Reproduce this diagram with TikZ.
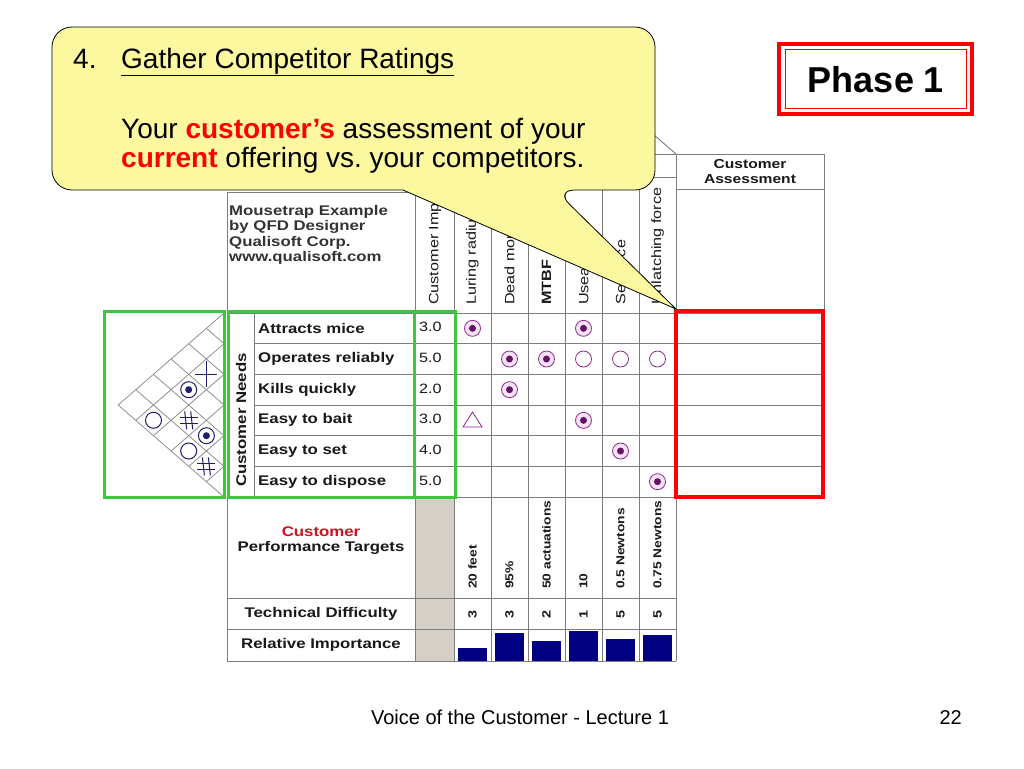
\documentclass[tikz,border=0pt]{standalone}
\usepackage{fontspec}
\setmainfont{Liberation Sans}
\newfontfamily\qfd[FakeStretch=1.2]{Liberation Sans}
\usetikzlibrary{positioning}
\frenchspacing

\definecolor{calloutfill}{RGB}{252,248,160}
\definecolor{qfdgreen}{RGB}{60,200,60}
\definecolor{qfdpurple}{RGB}{140,40,140}
\definecolor{qfdpink}{RGB}{246,226,246}
\definecolor{qfddot}{RGB}{100,20,100}
\definecolor{qfdnavy}{RGB}{0,0,128}
\definecolor{roofblue}{RGB}{30,30,110}
\definecolor{qfdgray}{RGB}{212,208,200}
\definecolor{linegray}{RGB}{125,125,125}
\definecolor{targetred}{RGB}{200,20,30}

\tikzset{
  grid line/.style={draw=linegray, line width=0.9pt},
  roof line/.style={draw=linegray!85, line width=0.8pt},
  green box/.style={draw=qfdgreen, line width=3pt},
  red box/.style={draw=red, line width=4pt},
  strong sym/.style={draw=qfdpurple, fill=qfdpink, line width=0.8pt},
  weak sym/.style={draw=qfdpurple, line width=0.8pt},
  roof sym/.style={draw=roofblue, line width=1pt},
  qfd text/.style={font=\qfd\bfseries\fontsize{14}{15}\selectfont, text=black!90},
  qfd plain/.style={font=\qfd\fontsize{13.5}{15}\selectfont, text=black!90},
  slide text/.style={font=\fontsize{28}{32}\selectfont, anchor=base west}
}

\begin{document}
\begin{tikzpicture}[x=1pt, y=-1pt, every node/.style={inner sep=0pt}]
    \useasboundingbox (0,0) rectangle (1024,768);
    \fill[white] (0,0) rectangle (1024,768);

    % phase box
    \draw[red box] (779,44) rectangle (972,114);
    \draw[red, line width=1pt] (785,50) rectangle (966,108);
    \node (phase) [anchor=base, font=\bfseries\fontsize{36}{40}\selectfont] at (876,92) {Phase 1};

    % grid of the house
    \fill[qfdgray] (415,497) rectangle (454,661);
    \draw[grid line] (454,154) -- (565,58) -- (676,154);
    \draw[grid line] (454,154) -- (824,154);
    \draw[grid line] (454,177) -- (676,177);
    \draw[grid line] (676,189) -- (824,189);
    \draw[grid line] (227,192) -- (454,192);
    \draw[grid line] (824,154) -- (824,497);
    \draw[grid line] (227,192) -- (227,661);
    \draw[grid line] (415,192) -- (415,661);
    \draw[grid line] (254,313) -- (254,497);
    \foreach \k in {0,...,6}
        \draw[grid line] ({454+\k*37},{\k==6 ? 154 : 177}) -- ({454+\k*37},661);
    \draw[grid line] (227,313) -- (824,313);
    \foreach \k in {1,...,5}
        \draw[grid line] (254,{313+\k*30.67}) -- (824,{313+\k*30.67});
    \draw[grid line] (227,497) -- (824,497);
    \draw[grid line] (227,598) -- (676,598);
    \draw[grid line] (227,629) -- (676,629);
    \draw[grid line] (227,661) -- (676,661);

    % correlation roof of the needs
    \foreach \k in {0,...,6} {
        \draw[roof line] (224,{313+\k*30.67}) -- ++({-(6-\k)*17.64},{(6-\k)*15.33});
        \draw[roof line] (224,{313+\k*30.67}) -- ++({-\k*17.64},{-\k*15.33});
    }
    \foreach \x/\y in {188.7/389.7, 206.4/435.7} {
        \draw[roof sym] (\x,\y) circle (8pt);
        \fill[roofblue] (\x,\y) circle (3.5pt);
    }
    \foreach \x/\y in {153.5/420.3, 188.7/451} \draw[roof sym] (\x,\y) circle (8pt);
    \foreach \x/\y in {188.7/420.3, 206.4/466.4} {
        \draw[roof sym] (\x-9,\y-3) -- (\x+9,\y-3) (\x-9,\y+3) -- (\x+9,\y+3);
        \draw[roof sym] (\x-4,\y-9) -- (\x-2,\y+9) (\x+2,\y-9) -- (\x+4,\y+9);
    }
    \draw[roof sym] (195.4,374.3) -- (217.4,374.3) (206.4,361) -- (206.4,387);

    % texts of the table
    \node (mouse) [qfd text, anchor=north west, align=left, text=black!80,
        font=\qfd\bfseries\fontsize{14}{15.5}\selectfont] at (229,205)
        {Mousetrap Example\\by QFD Designer\\Qualisoft Corp.\\www.qualisoft.com};
    \node (imp) [qfd plain, rotate=90, anchor=west] at (435,305) {Customer Importance};
    \foreach \c/\txt in {1/Luring radius, 2/Dead mouse, 3/\textbf{MTBF}, 4/Useable, 5/Set force, 6/Unlatching force}
        \node (hdr\c) [qfd plain, rotate=90, anchor=west] at ({454+(\c-0.5)*37},305) {\txt};
    \node (assess) [qfd text, font=\qfd\bfseries\fontsize{13}{15.5}\selectfont, align=center] at (750,171.5) {Customer\\Assessment};
    \node (needs) [qfd text, rotate=90] at (241,420) {Customer Needs};
    \foreach \r/\txt/\v in {1/Attracts mice/3.0, 2/Operates reliably/5.0, 3/Kills quickly/2.0,
                            4/Easy to bait/3.0, 5/Easy to set/4.0, 6/Easy to dispose/5.0} {
        \node (need\r) [qfd text, anchor=west] at (258,{313+(\r-0.5)*30.67}) {\txt};
        \node (val\r) [qfd plain, anchor=west] at (419,{312+(\r-0.5)*30.67}) {\v};
    }

    % relationship matrix
    \foreach \c/\r in {1/1, 4/1, 2/2, 3/2, 2/3, 4/4, 5/5, 6/6} {
        \draw[strong sym] ({454+(\c-0.5)*37},{313+(\r-0.5)*30.67}) circle (8pt);
        \fill[qfddot] ({454+(\c-0.5)*37},{313+(\r-0.5)*30.67}) circle (3.5pt);
    }
    \foreach \c in {4,5,6}
        \draw[weak sym] ({454+(\c-0.5)*37},{313+1.5*30.67}) circle (8pt);
    \draw[weak sym] (463,427) -- (482,427) -- (472.5,412) -- cycle;

    % bottom rows
    \node (target) [qfd text, align=center] at (321,541)
        {\textcolor{targetred}{Customer}\\Performance Targets};
    \node (diff) [qfd text] at (321,614) {Technical Difficulty};
    \node (rel) [qfd text] at (321,645) {Relative Importance};
    \foreach \c/\txt/\d in {1/20 feet/3, 2/95\%/3, 3/50 actuations/2, 4/10/1, 5/0.5 Newtons/5, 6/0.75 Newtons/5} {
        \node (goal\c) [qfd text, font=\qfd\bfseries\fontsize{11.5}{13}\selectfont, rotate=90, anchor=west] at ({454+(\c-0.5)*37},589) {\txt};
        \node (dif\c) [qfd text, font=\qfd\bfseries\fontsize{12}{13}\selectfont, rotate=90] at ({454+(\c-0.5)*37},614) {\d};
    }
    \foreach \c/\bartop in {1/648, 2/633, 3/641, 4/631, 5/639, 6/635}
        \fill[qfdnavy] ({454+(\c-1)*37+4},661) rectangle ({454+\c*37-4},\bartop);

    % highlight boxes
    \draw[green box] (104,311) rectangle (224,497);
    \draw[green box] (228,311) rectangle (414,497);
    \draw[green box] (414,311) rectangle (455,497);
    \draw[red box] (676,311) rectangle (823,497);

    % callout
    \draw[fill=calloutfill, draw=black, line width=0.8pt, rounded corners=20pt]
        (52,110) -- (52,27) -- (655,27) -- (655,190) -- (555,190) [sharp corners]
        -- (676,309) -- (403,190) [rounded corners=20pt] -- (52,190) -- cycle;
    \node (num) [slide text] at (73,68) {4.};
    \node (title) [slide text] at (121,68) {\underline{Gather Competitor Ratings}};
    \node (lineA) [slide text] at (121,138) {Your \textcolor{red}{\textbf{customer’s}} assessment of your};
    \node (lineB) [slide text] at (121,167) {\textcolor{red}{\textbf{current}} offering vs. your competitors.};

    % footer
    \node (foot) [anchor=base, font=\fontsize{20}{24}\selectfont] at (520,724) {Voice of the Customer - Lecture 1};
    \node (page) [anchor=base east, font=\fontsize{20}{24}\selectfont] at (962,724) {22};
\end{tikzpicture}
\end{document}
